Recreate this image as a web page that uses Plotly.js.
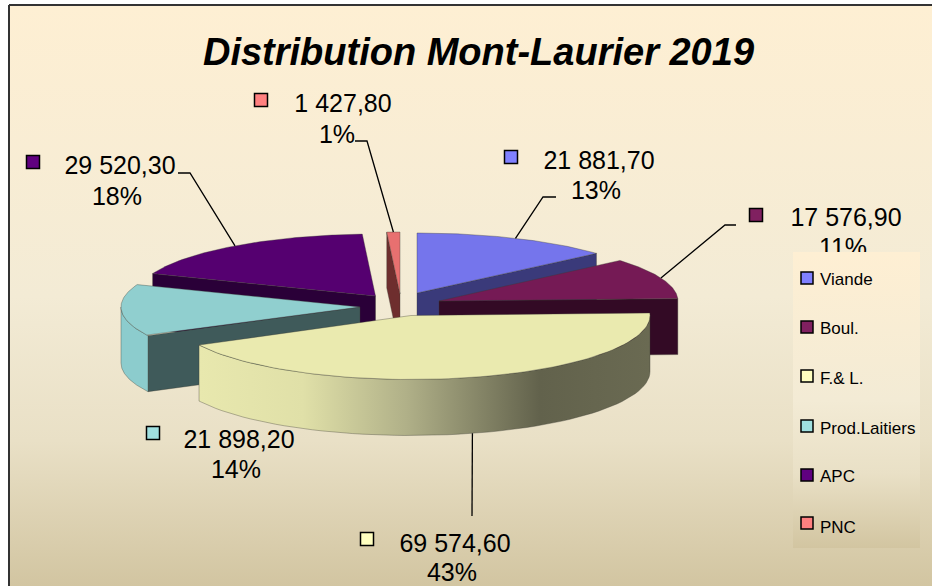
<!DOCTYPE html>
<html><head><meta charset="utf-8">
<script src="https://cdn.plot.ly/plotly-3.0.1.min.js"></script>
<style>html,body{margin:0;padding:0;background:#fff}#chart{width:932px;height:586px}</style>
</head><body><div id="chart"></div>
<script>
const categories = ['Viande','Boul.','F.& L.','Prod.Laitiers','APC','PNC'];
const values = [21881.7,17576.9,69574.6,21898.2,29520.3,1427.8];
const percentLabels = ['13%','11%','43%','14%','18%','1%'];
const keyColors = ['#8080FF','#802060','#FFFFC0','#A0E0E0','#600080','#FF8080'];
const topColors = ['#7575EC','#751A55','#EAEAAF','#90CFCF','#550070','#E87070'];
const cutColors = ['#3A3A7A','#330A25','#62624A','#3F5A5A','#2A0038','#6E2E2E'];
const wallColors = ['#5A5AB8','#5A1442','#EAEAAF','#8CCCCD','#3C0050','#B05555'];

// Projection of the pie (pixels of the 932x586 canvas, axes are 1:1 with pixels)
const RX = 239, RY = 62, DEPTH = 56;
const apexX = [417,439,411,360,375.5,400];
const apexY = [293,301,315.5,307,296,294];
const ryBySlice = [60,62,64,62,62,62];
const drawOrder = [4,5,0,1,3,2];

// Label placement
const keyX = [511,756,367,153,33,261];
const keyY = [157,215,539,433,162,100];
const valX = [599,846,455,239,120,343];
const valY = [163,220,546,442,168,106];
const pctX = [596,843,452,236,117,337];
const pctY = [193,250,575,472,199,137];
const elbowX = [[556,543],[736,725],[472,472],null,[178,190],[355,367]];
const elbowY = [[197,197],[225,225],[516,516],null,[173,173],[141,141]];

const legendKeyX = 807, legendTextX = 820;
const legendKeyY = [278,327,376,426,475,523];
const legendTextY = [281,330,380,430,478,529];

const FONT = 'Liberation Sans, Arial, sans-serif';
const BACKDROP = [[0,'#D2C5A1'],[0.25,'#E9E0C6'],[0.5,'#F3EBD5'],[1,'#FEEFD3']];
const total = values.reduce((a,b)=>a+b,0);
const fmt = v => { const [i,d] = v.toFixed(2).split('.'); return i.replace(/\B(?=(\d{3})+$)/g,' ') + ',' + d; };

// slice angles, clockwise from 12 o'clock
const starts = [], sweeps = [];
let acc = 0;
values.forEach(v => { starts.push(acc); sweeps.push(v/total*2*Math.PI); acc += v/total*2*Math.PI; });

function rim(i,a,dy){ return [apexX[i]+RX*Math.sin(a), apexY[i]-ryBySlice[i]*Math.cos(a)+(dy||0)]; }
function poly(pts,fill,extra){
  return Object.assign({type:'scatter',mode:'lines',x:pts.map(p=>p[0]),y:pts.map(p=>p[1]),fill:'toself',fillcolor:fill,
    line:{color:'rgba(60,60,50,0.45)',width:0.8},hoverinfo:'skip',showlegend:false},extra||{});
}
const traces = [];
// background gradient panel
traces.push({type:'scatter',mode:'lines',x:[10,932,932,10,10],y:[6,6,586,586,6],fill:'toself',
  fillcolor:'#F8EDD2',line:{color:'rgba(0,0,0,0)',width:0},hoverinfo:'skip',showlegend:false,
  fillgradient:{type:'vertical',colorscale:BACKDROP}});

drawOrder.forEach(i=>{
  const a0=starts[i], a1=starts[i]+sweeps[i];
  const apex=[apexX[i],apexY[i]];
  // visible cut faces
  [a0,a1].forEach(a=>{
    const r=rim(i,a), mid=rim(i,(a0+a1)/2);
    const dx=r[0]-apex[0];
    if(Math.abs(dx)<1) return;
    const lineY=apex[1]+(r[1]-apex[1])/dx*(mid[0]-apex[0]);
    if(mid[1]<lineY){
      traces.push(poly([apex,r,[r[0],r[1]+DEPTH],[apex[0],apex[1]+DEPTH],apex],cutColors[i]));
    }
  });
  // outer wall: only the part that faces the viewer
  const w0=Math.max(a0,Math.PI/2), w1=Math.min(a1,1.5*Math.PI);
  if(w1>w0){
    const up=[],down=[];
    for(let k=0;k<=60;k++){ const a=w0+(w1-w0)*k/60; up.push(rim(i,a)); down.unshift(rim(i,a,DEPTH)); }
    const pts=up.concat(down,[up[0]]);
    const extra = i===2 ? {fillgradient:{type:'horizontal',colorscale:[[0,'#E8E8AE'],[0.23,'#E0E0A8'],[0.46,'#B0B088'],[0.755,'#62624C'],[1,'#6A6A52']]}} : {};
    traces.push(poly(pts,wallColors[i],extra));
  }
  // top surface
  const topPts=[apex];
  for(let k=0;k<=80;k++){ topPts.push(rim(i,a0+(a1-a0)*k/80)); }
  topPts.push(apex);
  traces.push(poly(topPts,topColors[i]));
});

// leader lines
categories.forEach((c,i)=>{
  if(!elbowX[i]) return;
  const mid=starts[i]+sweeps[i]/2;
  const anchor=rim(i,mid, Math.cos(mid)<0?DEPTH:0);
  traces.push({type:'scatter',mode:'lines',x:[elbowX[i][0],elbowX[i][1],anchor[0]],y:[elbowY[i][0],elbowY[i][1],anchor[1]],
    line:{color:'#000',width:1.3},hoverinfo:'skip',showlegend:false});
});

// data labels and their keys
traces.push({type:'scatter',mode:'text',x:valX,y:valY,text:values.map(fmt),textposition:'middle center',
  textfont:{family:FONT,size:25,color:'#000'},hoverinfo:'skip',showlegend:false});
traces.push({type:'scatter',mode:'text',x:pctX,y:pctY,text:percentLabels,textposition:'middle center',
  textfont:{family:FONT,size:25,color:'#000'},hoverinfo:'skip',showlegend:false});
traces.push({type:'scatter',mode:'markers',x:keyX,y:keyY,marker:{symbol:'square',size:13,color:keyColors,line:{color:'#000',width:1.5}},hoverinfo:'skip',showlegend:false});

// legend panel painted over the labels
traces.push({type:'scatter',mode:'lines',x:[793,920,920,793,793],y:[252,252,548,548,252],fill:'toself',fillcolor:'#F3EBD5',
  line:{color:'rgba(0,0,0,0)',width:0},hoverinfo:'skip',showlegend:false,
  fillgradient:{type:'vertical',colorscale:BACKDROP}});
traces.push({type:'scatter',mode:'markers',x:legendKeyY.map(()=>legendKeyX),y:legendKeyY,marker:{symbol:'square',size:12,color:keyColors,line:{color:'#000',width:1.5}},hoverinfo:'skip',showlegend:false});
traces.push({type:'scatter',mode:'text',x:legendTextY.map(()=>legendTextX),y:legendTextY,text:categories,textposition:'middle right',
  textfont:{family:FONT,size:17,color:'#000'},hoverinfo:'skip',showlegend:false});

const hidden={visible:false,fixedrange:true};
const layout={
  width:932,height:586,margin:{l:0,r:0,t:0,b:0},showlegend:false,
  paper_bgcolor:'#fff',plot_bgcolor:'rgba(0,0,0,0)',
  xaxis:Object.assign({range:[0,932]},hidden),
  yaxis:Object.assign({range:[586,0]},hidden),
  title:{text:'<b><i>Distribution Mont-Laurier 2019</i></b>',font:{family:FONT,size:38,color:'#000'},x:478.5/932,xanchor:'center',y:1-52/586,yanchor:'middle',xref:'paper',yref:'paper'},
  shapes:[
    {type:'line',xref:'x',yref:'y',x0:9,x1:9,y0:5,y1:586,line:{color:'#333',width:2}},
    {type:'line',xref:'x',yref:'y',x0:9,x1:932,y0:5,y1:5,line:{color:'#333',width:2}}
  ]
};
Plotly.newPlot('chart',traces,layout,{displayModeBar:false,staticPlot:true});
</script></body></html>
